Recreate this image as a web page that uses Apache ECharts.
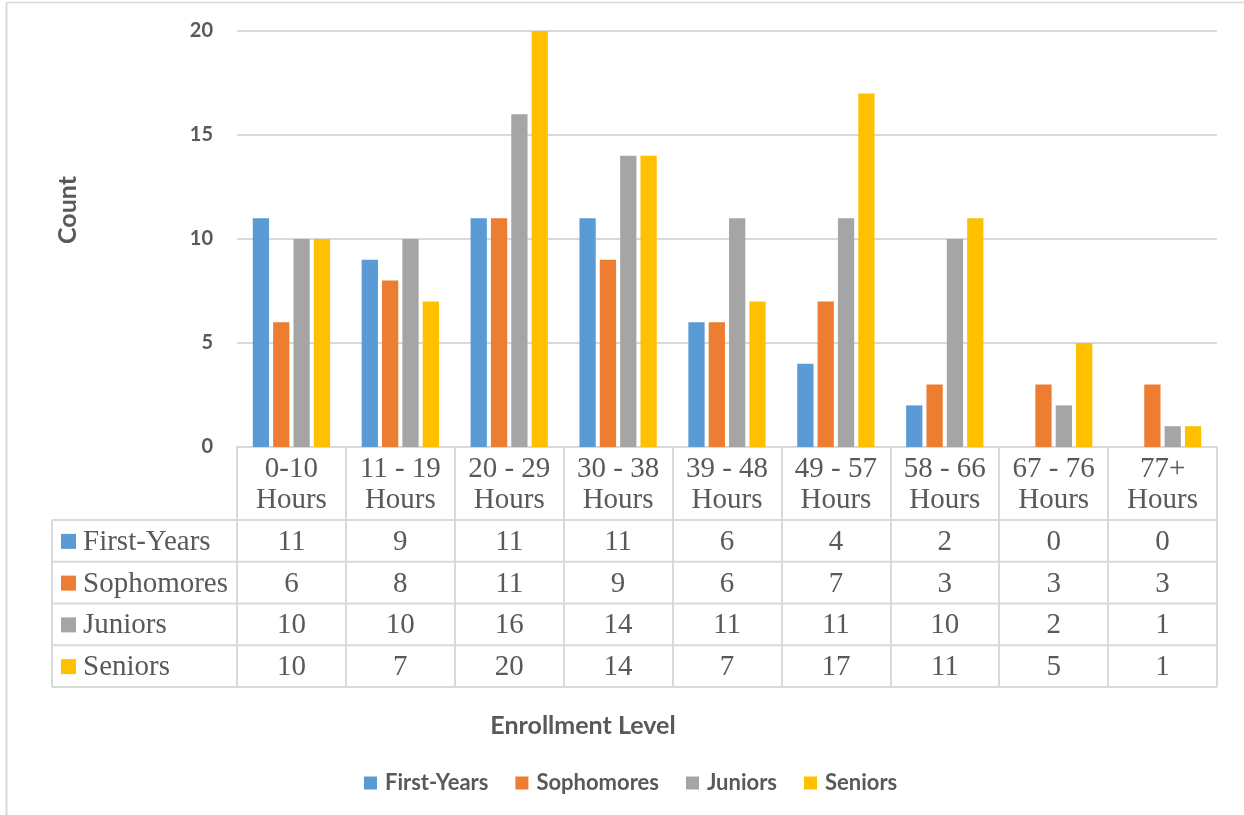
<!DOCTYPE html>
<html>
<head>
<meta charset="utf-8">
<script src="https://cdn.jsdelivr.net/npm/echarts/dist/echarts.min.js"></script>
<style>
  html, body { margin: 0; padding: 0; background: #ffffff; }
  #chart { width: 1244px; height: 815px; }
</style>
</head>
<body>
<div id="chart"></div>
<script>
// Enrollment level by credit hours, per class year
const categories = ['0-10 Hours', '11 - 19 Hours', '20 - 29 Hours', '30 - 38 Hours', '39 - 48 Hours',
                    '49 - 57 Hours', '58 - 66 Hours', '67 - 76 Hours', '77+ Hours'];
const seriesNames = ['First-Years', 'Sophomores', 'Juniors', 'Seniors'];
const firstYears = [11, 9, 11, 11, 6, 4, 2, 0, 0];
const sophomores = [6, 8, 11, 9, 6, 7, 3, 3, 3];
const juniors    = [10, 10, 16, 14, 11, 11, 10, 2, 1];
const seniors    = [10, 7, 20, 14, 7, 17, 11, 5, 1];
const yMin = 0, yMax = 20, yStep = 5;

const seriesValues = [firstYears, sophomores, juniors, seniors];
const colors = ['#5B9BD5', '#ED7D31', '#A5A5A5', '#FFC000'];
const textColor = '#595959';
const lineColor = '#D9D9D9';
const sansFont = 'Lato, "Open Sans", sans-serif';
const serifFont = '"Liberation Serif", "Times New Roman", serif';

// data table geometry below the plot
const headerH = 73;
const rowH = 41.75;
const tableLeft = 52;

const chart = echarts.init(document.getElementById('chart'), null, { renderer: 'canvas' });

chart.setOption({
  animation: false,
  backgroundColor: '#ffffff',
  grid: { left: 237, right: 27, top: 31, bottom: 368, containLabel: false },
  legend: {
    left: 364, top: 772, padding: 0,
    icon: 'rect', itemWidth: 13, itemHeight: 13, itemGap: 27,
    textStyle: { color: textColor, fontFamily: sansFont, fontWeight: 'bold', fontSize: 22, padding: [0, 0, 0, 3] },
    data: seriesNames
  },
  xAxis: {
    type: 'category',
    data: categories,
    axisLine: { show: true, lineStyle: { color: lineColor, width: 2 } },
    axisTick: { show: true, length: headerH + rowH * 4, lineStyle: { color: lineColor, width: 2 } },
    axisLabel: {
      interval: 0, margin: 7,
      color: textColor, fontFamily: serifFont, fontSize: 29, lineHeight: 31,
      formatter: v => v.replace(' Hours', '\nHours')
    }
  },
  yAxis: {
    type: 'value',
    min: yMin, max: yMax, interval: yStep,
    axisLine: { show: false },
    axisTick: { show: false },
    axisLabel: { margin: 24, color: textColor, fontFamily: sansFont, fontWeight: 'bold', fontSize: 20 },
    splitLine: { lineStyle: { color: lineColor, width: 2 } }
  },
  series: seriesNames.map((name, i) => ({
    name,
    type: 'bar',
    data: seriesValues[i],
    barGap: '25%',
    barCategoryGap: '29%',
    itemStyle: { color: colors[i] }
  }))
});

// Build the data table, titles and frame from the axis scales
function buildGraphics() {
  const c0 = chart.convertToPixel({ xAxisIndex: 0 }, 0);
  const c1 = chart.convertToPixel({ xAxisIndex: 0 }, 1);
  const band = c1 - c0;
  const gridLeft = c0 - band / 2;
  const gridRight = gridLeft + band * categories.length;
  const yBase = chart.convertToPixel({ yAxisIndex: 0 }, yMin);

  const els = [];
  const stroke = { stroke: lineColor, lineWidth: 2 };

  // horizontal rules of the table
  for (let r = 0; r <= seriesNames.length; r++) {
    const y = yBase + headerH + rowH * r;
    els.push({ type: 'line', silent: true, shape: { x1: tableLeft, y1: y, x2: gridRight, y2: y }, style: stroke });
  }
  // left edge of the series-name column
  els.push({ type: 'line', silent: true,
    shape: { x1: tableLeft, y1: yBase + headerH, x2: tableLeft, y2: yBase + headerH + rowH * seriesNames.length },
    style: stroke });

  seriesNames.forEach((name, r) => {
    const cy = yBase + headerH + rowH * (r + 0.5) + 1.5;
    els.push({ type: 'rect', silent: true, shape: { x: 61, y: cy - 8.5, width: 15, height: 15 }, style: { fill: colors[r] } });
    els.push({ type: 'text', silent: true, style: {
      text: name, x: 83, y: cy, align: 'left', verticalAlign: 'middle',
      fill: textColor, fontFamily: serifFont, fontSize: 29 } });
    seriesValues[r].forEach((v, k) => {
      const cx = chart.convertToPixel({ xAxisIndex: 0 }, k);
      els.push({ type: 'text', silent: true, style: {
        text: String(v), x: cx, y: cy, align: 'center', verticalAlign: 'middle',
        fill: textColor, fontFamily: serifFont, fontSize: 29 } });
    });
  });

  // axis titles
  els.push({ type: 'text', silent: true, style: {
    text: 'Enrollment Level', x: 583, y: 726, align: 'center', verticalAlign: 'middle',
    fill: textColor, fontFamily: sansFont, fontWeight: 'bold', fontSize: 25 } });
  els.push({ type: 'text', silent: true, x: 68, y: 210, rotation: Math.PI / 2, style: {
    text: 'Count', x: 0, y: 0, align: 'center', verticalAlign: 'middle',
    fill: textColor, fontFamily: sansFont, fontWeight: 'bold', fontSize: 25 } });

  // chart frame (top and left edges)
  els.push({ type: 'line', silent: true, shape: { x1: 6, y1: 2.5, x2: 1244, y2: 2.5 }, style: { stroke: lineColor, lineWidth: 1.5 } });
  els.push({ type: 'line', silent: true, shape: { x1: 6.5, y1: 2, x2: 6.5, y2: 815 }, style: { stroke: lineColor, lineWidth: 2 } });

  chart.setOption({ graphic: els });
}
buildGraphics();
</script>
</body>
</html>
